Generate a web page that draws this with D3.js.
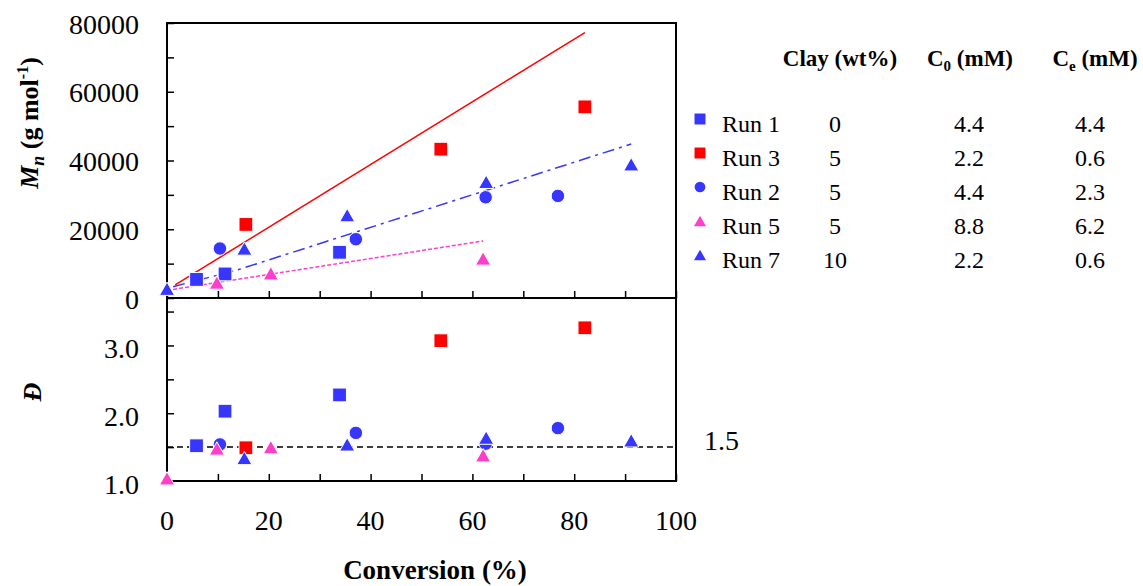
<!DOCTYPE html>
<html>
<head>
<meta charset="utf-8">
<script src="https://cdn.jsdelivr.net/npm/d3@7"></script>
</head>
<body style="margin:0">
<svg id="c" width="1143" height="586"></svg>
<script>

// legend table
var runs = ["Run 1", "Run 3", "Run 2", "Run 5", "Run 7"];
var clay = ["0", "5", "5", "5", "10"];
var c0 = ["4.4", "2.2", "4.4", "8.8", "2.2"];
var ce = ["4.4", "0.6", "2.3", "6.2", "0.6"];

// measured points (conversion %, Mn g/mol, dispersity)
var run1_conv = [5.8, 11.4, 33.9];
var run1_mn = [5400, 7000, 13300];
var run1_disp = [1.52, 2.03, 2.27];

var run3_conv = [15.5, 53.8, 82.1];
var run3_mn = [21400, 43300, 55600];
var run3_disp = [1.49, 3.07, 3.26];

var run2_conv = [10.4, 37.1, 62.6, 76.8];
var run2_mn = [14400, 17100, 29300, 29700];
var run2_disp = [1.54, 1.71, 1.55, 1.78];

var run5_conv = [0, 9.8, 20.4, 62.1];
var run5_mn = [null, 4500, 7200, 11500];
var run5_disp = [1.04, 1.48, 1.50, 1.38];

var run7_conv = [0, 15.2, 35.4, 62.7, 91.2];
var run7_mn = [2700, 14400, 24100, 33800, 38900];
var run7_disp = [null, 1.34, 1.54, 1.64, 1.60];

// theoretical lines
var red_line_conv = [1.6, 82.1];
var red_line_mn = [3800, 77200];
var blue_line_conv = [1.2, 13.7, 91.2];
var blue_line_mn = [3300, 8100, 44800];
var pink_line_conv = [1.2, 62.1];
var pink_line_mn = [2500, 16600];

var disp_ref = 1.5;

var mn_ticks = [0, 20000, 40000, 60000, 80000];
var disp_ticks = [1.0, 2.0, 3.0];
var conv_ticks = [0, 20, 40, 60, 80, 100];

var blue = "#3636ff", red = "#ff0000", pink = "#ff3fcc";
var FONT = "Times New Roman";

var series = [
	{name: "Run 1", conv: run1_conv, mn: run1_mn, disp: run1_disp, color: blue, shape: "square"},
	{name: "Run 3", conv: run3_conv, mn: run3_mn, disp: run3_disp, color: red, shape: "square"},
	{name: "Run 2", conv: run2_conv, mn: run2_mn, disp: run2_disp, color: blue, shape: "circle"},
	{name: "Run 5", conv: run5_conv, mn: run5_mn, disp: run5_disp, color: pink, shape: "triangle"},
	{name: "Run 7", conv: run7_conv, mn: run7_mn, disp: run7_disp, color: blue, shape: "triangle"}
];

var left = 167, right = 676, top1 = 23, split = 298, bottom = 481;

var x = d3.scaleLinear().domain([0, 100]).range([left, right]);
var y1 = d3.scaleLinear().domain([0, 80000]).range([split, top1]);
var y2 = d3.scaleLinear().domain([1, 3.7]).range([bottom, split]);

var svg = d3.select("#c");

// triangle centred on its bounding box
var triangleType = {
	draw: function(ctx, size) {
		var w = Math.sqrt(size) * 1.1, h = w * 0.88;
		ctx.moveTo(0, -h / 2);
		ctx.lineTo(w / 2, h / 2);
		ctx.lineTo(-w / 2, h / 2);
		ctx.closePath();
	}
};

function symbolPath(shape, size) {
	var t = shape == "square" ? d3.symbolSquare : shape == "circle" ? d3.symbolCircle : triangleType;
	if (shape == "circle") size = size * 0.75;
	return d3.symbol().type(t).size(size)();
}

function inward(g) {
	g.attr("font-family", null).attr("font-size", null);
	g.select(".domain").remove();
	g.selectAll("text").remove();
	g.selectAll("line").attr("stroke", "#000").attr("stroke-width", 1.5);
}

// frames
svg.append("rect")
	.attr("x", left).attr("y", top1)
	.attr("width", right - left).attr("height", split - top1)
	.attr("fill", "none").attr("stroke", "#000").attr("stroke-width", 2);
svg.append("rect")
	.attr("x", left).attr("y", split)
	.attr("width", right - left).attr("height", bottom - split)
	.attr("fill", "none").attr("stroke", "#000").attr("stroke-width", 2);

// inward ticks
var minorX = d3.range(0, 101, 10);
svg.append("g")
	.attr("transform", "translate(0," + split + ")")
	.call(d3.axisTop(x).tickValues(minorX).tickSize(7).tickFormat(""))
	.call(inward);
svg.append("g")
	.attr("transform", "translate(0," + bottom + ")")
	.call(d3.axisTop(x).tickValues(minorX).tickSize(7).tickFormat(""))
	.call(inward);
svg.append("g")
	.attr("transform", "translate(" + left + ",0)")
	.call(d3.axisRight(y1).tickValues(d3.range(0, 80001, 10000)).tickSize(7).tickFormat(""))
	.call(inward);
svg.append("g")
	.attr("transform", "translate(" + left + ",0)")
	.call(d3.axisRight(y2).tickValues([1, 1.5, 2, 2.5, 3, 3.5]).tickSize(7).tickFormat(""))
	.call(inward);

// tick labels
svg.append("g").selectAll("text")
	.data(mn_ticks).enter().append("text")
	.attr("x", 139).attr("y", function(d) { return y1(d); })
	.attr("dy", "0.38em")
	.attr("text-anchor", "end")
	.attr("font-size", 28)
	.text(function(d) { return d; });
svg.append("g").selectAll("text")
	.data(disp_ticks).enter().append("text")
	.attr("x", 139).attr("y", function(d) { return y2(d); })
	.attr("dy", "0.45em")
	.attr("text-anchor", "end")
	.attr("font-size", 28)
	.text(function(d) { return d.toFixed(1); });
svg.append("g").selectAll("text")
	.data(conv_ticks).enter().append("text")
	.attr("x", function(d) { return x(d); }).attr("y", 530)
	.attr("text-anchor", "middle")
	.attr("font-size", 28)
	.text(function(d) { return d; });

// axis titles
svg.append("text")
	.attr("x", 435).attr("y", 579)
	.attr("text-anchor", "middle")
	.attr("font-size", 27).attr("font-weight", "bold")
	.text("Conversion (%)");

var mnTitle = svg.append("text")
	.attr("transform", "translate(38,123) rotate(-90)")
	.attr("text-anchor", "middle")
	.attr("font-size", 26).attr("font-weight", "bold");
mnTitle.append("tspan").attr("font-style", "italic").text("M");
mnTitle.append("tspan").attr("font-style", "italic").attr("font-size", 18).attr("dy", 6).text("n");
mnTitle.append("tspan").attr("dy", -6).text(" (g mol");
mnTitle.append("tspan").attr("font-size", 16).attr("dy", -10).text("-1");
mnTitle.append("tspan").attr("dy", 10).text(")");

svg.append("text")
	.attr("transform", "translate(41,392) rotate(-90)")
	.attr("text-anchor", "middle")
	.attr("font-size", 26).attr("font-weight", "bold").attr("font-style", "italic")
	.text("\u0110");

// lines
var line = d3.line()
	.x(function(d) { return x(d[0]); })
	.y(function(d) { return y1(d[1]); });

svg.append("path")
	.datum(d3.zip(red_line_conv, red_line_mn))
	.attr("d", line)
	.attr("fill", "none").attr("stroke", red).attr("stroke-width", 1.5);
svg.append("path")
	.datum(d3.zip(blue_line_conv, blue_line_mn))
	.attr("d", line)
	.attr("fill", "none").attr("stroke", blue).attr("stroke-width", 1.5)
	.attr("stroke-dasharray", "12,5,3,5");
svg.append("path")
	.datum(d3.zip(pink_line_conv, pink_line_mn))
	.attr("d", line)
	.attr("fill", "none").attr("stroke", pink).attr("stroke-width", 1.5)
	.attr("stroke-dasharray", "4,2");

svg.append("line")
	.attr("x1", left).attr("x2", right)
	.attr("y1", y2(disp_ref)).attr("y2", y2(disp_ref))
	.attr("stroke", "#000").attr("stroke-width", 1.5)
	.attr("stroke-dasharray", "6,4");
svg.append("text")
	.attr("x", 704).attr("y", y2(disp_ref) + 3)
	.attr("font-size", 28)
	.text(disp_ref.toFixed(1));

// markers
series.forEach(function(s) {
	var topPts = [], botPts = [];
	s.conv.forEach(function(c, i) {
		if (s.mn[i] != null) topPts.push([c, s.mn[i]]);
		if (s.disp[i] != null) botPts.push([c, s.disp[i]]);
	});
	var path = symbolPath(s.shape, 190);
	svg.append("g").selectAll("path")
		.data(topPts).enter().append("path")
		.attr("d", path)
		.attr("transform", function(d) { return "translate(" + x(d[0]) + "," + y1(d[1]) + ")"; })
		.attr("fill", s.color).attr("stroke", "#fff").attr("stroke-width", 1);
	svg.append("g").selectAll("path")
		.data(botPts).enter().append("path")
		.attr("d", path)
		.attr("transform", function(d) { return "translate(" + x(d[0]) + "," + y2(d[1]) + ")"; })
		.attr("fill", s.color).attr("stroke", "#fff").attr("stroke-width", 1);
});

// legend table
var head = svg.append("g").attr("font-size", 23).attr("font-weight", "bold").attr("text-anchor", "middle");
head.append("text").attr("x", 840).attr("y", 66).text("Clay (wt%)");
var h2 = head.append("text").attr("x", 970).attr("y", 66);
h2.append("tspan").text("C");
h2.append("tspan").attr("font-size", 15).attr("dy", 5).text("0");
h2.append("tspan").attr("dy", -5).text(" (mM)");
var h3 = head.append("text").attr("x", 1095).attr("y", 66);
h3.append("tspan").text("C");
h3.append("tspan").attr("font-size", 15).attr("dy", 5).text("e");
h3.append("tspan").attr("dy", -5).text(" (mM)");

var rowY = d3.scalePoint().domain(runs).range([132, 268]);
var rows = svg.append("g").selectAll("g")
	.data(series).enter().append("g")
	.attr("transform", function(d) { return "translate(0," + rowY(d.name) + ")"; });
rows.append("path")
	.attr("d", function(d) { return symbolPath(d.shape, 120); })
	.attr("transform", "translate(700,-13)")
	.attr("fill", function(d) { return d.color; });
rows.append("text").attr("x", 722).attr("font-size", 24)
	.text(function(d) { return d.name; });
rows.append("text").attr("x", 835).attr("font-size", 24).attr("text-anchor", "middle")
	.text(function(d, i) { return clay[i]; });
rows.append("text").attr("x", 969).attr("font-size", 24).attr("text-anchor", "middle")
	.text(function(d, i) { return c0[i]; });
rows.append("text").attr("x", 1090).attr("font-size", 24).attr("text-anchor", "middle")
	.text(function(d, i) { return ce[i]; });

svg.selectAll("text").attr("font-family", FONT);

</script>
</body>
</html>
